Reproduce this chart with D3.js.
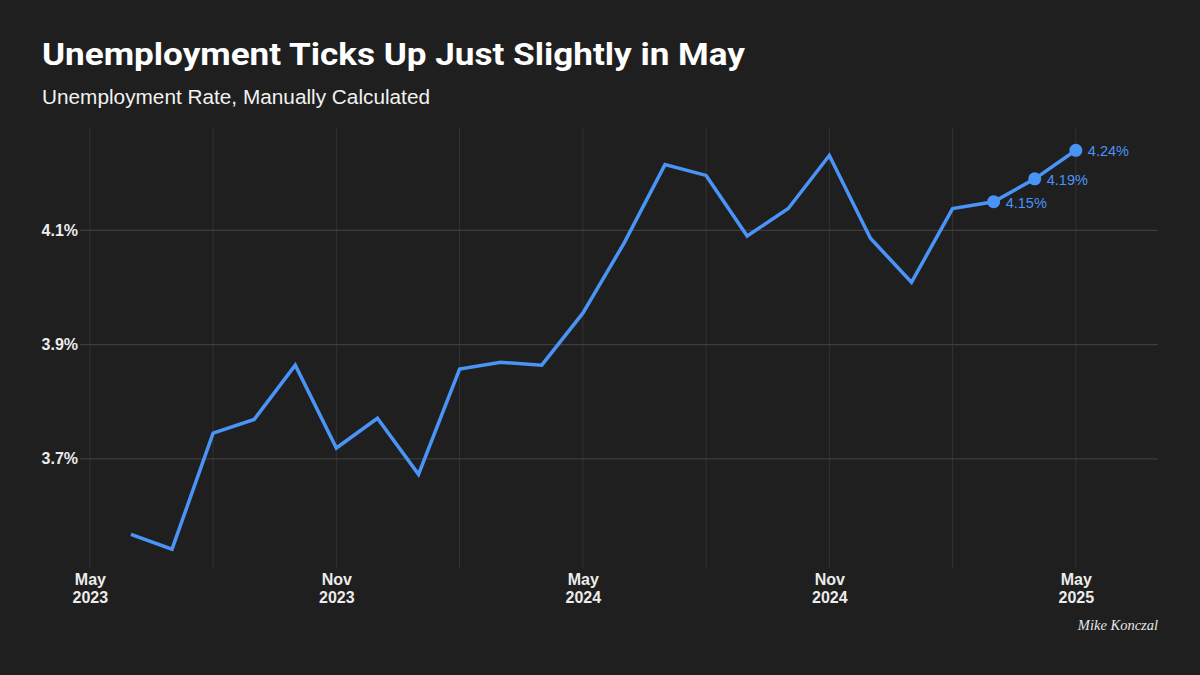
<!DOCTYPE html>
<html>
<head>
<meta charset="utf-8">
<script src="https://cdn.jsdelivr.net/npm/d3@7"></script>
<style>
  html, body { margin: 0; padding: 0; background: #1f1f1f; }
  svg { display: block; }
</style>
</head>
<body>
<svg id="chart" width="1200" height="675"></svg>
<script>
// ---- Data ----
const months = ["Jun 2023","Jul 2023","Aug 2023","Sep 2023","Oct 2023","Nov 2023","Dec 2023",
  "Jan 2024","Feb 2024","Mar 2024","Apr 2024","May 2024","Jun 2024","Jul 2024","Aug 2024",
  "Sep 2024","Oct 2024","Nov 2024","Dec 2024","Jan 2025","Feb 2025","Mar 2025","Apr 2025","May 2025"];
const rates = [3.568, 3.542, 3.745, 3.769, 3.864, 3.719, 3.771, 3.673, 3.857, 3.869, 3.864, 3.955,
  4.077, 4.215, 4.196, 4.090, 4.138, 4.231, 4.086, 4.009, 4.138, 4.15, 4.19, 4.24];
const highlightLabels = ["4.15%", "4.19%", "4.24%"];
const yTicks = [3.7, 3.9, 4.1];
const xTickLabels = [["May","2023"],["Nov","2023"],["May","2024"],["Nov","2024"],["May","2025"]];
const title = "Unemployment Ticks Up Just Slightly in May";
const subtitle = "Unemployment Rate, Manually Calculated";
const credit = "Mike Konczal";

// month index: May 2023 = 0
const data = months.map((m, i) => ({ idx: i + 1, label: m, value: rates[i] }));

const svg = d3.select("#chart");
const W = 1200, H = 675;
const plot = { left: 80, right: 1158, top: 128, bottom: 568 };
const blue = "#4a94f8";

svg.append("rect").attr("width", W).attr("height", H).attr("fill", "#1f1f1f");

const x = d3.scaleLinear().domain([-0.24, 26.0]).range([plot.left, plot.right]);
const y = d3.scaleLinear().domain([3.509, 4.279]).range([plot.bottom, plot.top]);

// vertical gridlines every 3 months
const vTicks = d3.range(0, 25, 3);
svg.append("g").selectAll("line").data(vTicks).join("line")
  .attr("x1", d => x(d)).attr("x2", d => x(d))
  .attr("y1", plot.top).attr("y2", plot.bottom)
  .attr("stroke", "#333333").attr("stroke-width", 1);

// horizontal gridlines
svg.append("g").selectAll("line").data(yTicks).join("line")
  .attr("x1", plot.left).attr("x2", plot.right)
  .attr("y1", d => y(d)).attr("y2", d => y(d))
  .attr("stroke", "#3d3d3d").attr("stroke-width", 1.2);

// y axis labels
const yAxis = d3.axisLeft(y).tickValues(yTicks).tickSize(0).tickPadding(2)
  .tickFormat(d => d3.format(".1f")(d) + "%");
const gy = svg.append("g").attr("transform", `translate(${plot.left},0)`).call(yAxis);
gy.select(".domain").remove();
gy.selectAll("text")
  .attr("fill", "#ececec").attr("font-family", "'Liberation Sans', Arial, sans-serif")
  .attr("font-weight", 700).attr("font-size", 16);

// x axis labels
const xLabelTicks = [0, 6, 12, 18, 24];
const xAxis = d3.axisBottom(x).tickValues(xLabelTicks).tickSize(0).tickFormat("");
const gx = svg.append("g").attr("transform", `translate(0,${plot.bottom})`).call(xAxis);
gx.select(".domain").remove();
gx.selectAll(".tick").each(function(d, i) {
  const t = d3.select(this).append("text")
    .attr("text-anchor", "middle").attr("fill", "#ececec")
    .attr("font-family", "'Liberation Sans', Arial, sans-serif")
    .attr("font-weight", 700).attr("font-size", 16);
  t.append("tspan").attr("x", 0).attr("y", 17).text(xTickLabels[i][0]);
  t.append("tspan").attr("x", 0).attr("y", 35).text(xTickLabels[i][1]);
});

// line
const line = d3.line().x(d => x(d.idx)).y(d => y(d.value));
svg.append("path").datum(data)
  .attr("d", line).attr("fill", "none")
  .attr("stroke", blue).attr("stroke-width", 3.5)
  .attr("stroke-linejoin", "miter").attr("stroke-linecap", "butt");

// highlighted last three points
const last = data.slice(-3);
svg.append("g").selectAll("circle").data(last).join("circle")
  .attr("cx", d => x(d.idx)).attr("cy", d => y(d.value)).attr("r", 6.5)
  .attr("fill", blue);
svg.append("g").selectAll("text").data(last).join("text")
  .attr("x", d => x(d.idx) + 12).attr("y", d => y(d.value) + 6)
  .attr("fill", blue).attr("font-family", "'Liberation Sans', Arial, sans-serif")
  .attr("font-size", 14.5)
  .text((d, i) => highlightLabels[i]);

// title
svg.append("text").attr("x", 42).attr("y", 65)
  .attr("fill", "#ffffff").attr("font-family", "Roboto, 'Liberation Sans', sans-serif")
  .attr("font-weight", 700).attr("font-size", 31)
  .attr("textLength", 703).attr("lengthAdjust", "spacingAndGlyphs")
  .text(title);

svg.append("text").attr("x", 42).attr("y", 104)
  .attr("fill", "#f2f2f2").attr("font-family", "'Liberation Sans', Arial, sans-serif")
  .attr("font-weight", 400).attr("font-size", 20.5)
  .attr("textLength", 388).attr("lengthAdjust", "spacingAndGlyphs")
  .text(subtitle);

svg.append("text").attr("x", 1158).attr("y", 630)
  .attr("text-anchor", "end").attr("fill", "#e6e6e6")
  .attr("font-family", "'Liberation Serif', 'DejaVu Serif', serif")
  .attr("font-style", "italic").attr("font-size", 14.5)
  .text(credit);
</script>
</body>
</html>
